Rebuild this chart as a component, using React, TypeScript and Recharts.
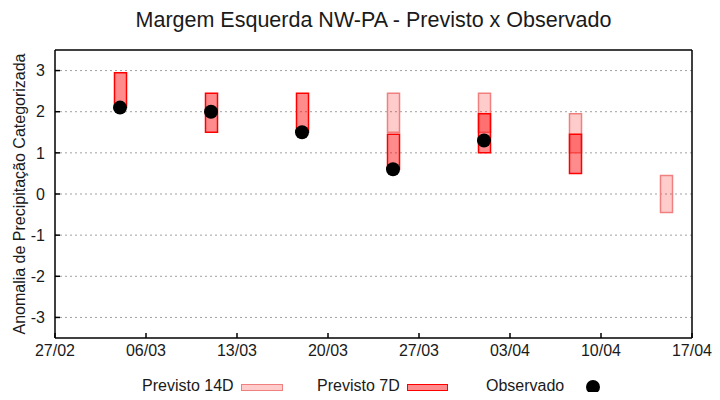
import React from 'react';
import {
  ComposedChart, Bar, Scatter, XAxis, YAxis, CartesianGrid,
} from 'recharts';

// day offsets from 27/02
const days = [5, 12, 19, 26, 33, 40, 47];
const p14Low: (number | null)[] = [null, null, null, 1.5, 1.5, 1.0, -0.45];
const p14High: (number | null)[] = [null, null, null, 2.45, 2.45, 1.95, 0.45];
const p7Low: (number | null)[] = [2.1, 1.5, 1.5, 0.6, 1.0, 0.5, null];
const p7High: (number | null)[] = [2.95, 2.45, 2.45, 1.45, 1.95, 1.45, null];
const observed: (number | null)[] = [2.1, 2.0, 1.5, 0.6, 1.3, null, null];

const xDomain = [0, 49];
const yDomain = [-3.5, 3.5];
const xTicks = [0, 7, 14, 21, 28, 35, 42, 49];
const xTickLabels = ['27/02', '06/03', '13/03', '20/03', '27/03', '03/04', '10/04', '17/04'];
const yTicks = [-3, -2, -1, 0, 1, 2, 3];

const title = 'Margem Esquerda NW-PA - Previsto x Observado';
const yLabel = 'Anomalia de Precipitação Categorizada';
const legendNames = ['Previsto 14D', 'Previsto 7D', 'Observado'];

const data = days.map((d, i) => ({
  day: d,
  p14: p14Low[i] === null ? null : [p14Low[i], p14High[i]],
  p7: p7Low[i] === null ? null : [p7Low[i], p7High[i]],
  obs: observed[i],
}));
const obsData = data.filter((r) => r.obs !== null);

const FONT = '"Liberation Sans", Arial, sans-serif';
const tickStyle = { fontSize: 16, fill: '#1a1a1a', fontFamily: FONT };
const axisLineStyle = { stroke: '#000', strokeWidth: 1.5 };
const tickLineStyle = { stroke: '#000', strokeWidth: 1.5 };

const PLOT = { left: 55, top: 50, right: 28, bottom: 62 };

const Dot = (props: any) => {
  const { cx, cy } = props;
  if (cx == null || cy == null) return null;
  return <circle cx={cx} cy={cy} r={7} fill="#000" />;
};

export default function App() {
  return (
    <div style={{ position: 'relative', width: 720, height: 400, margin: -8, fontFamily: FONT, background: '#fff' }}>
      <div style={{ position: 'absolute', left: PLOT.left, width: 720 - PLOT.left - PLOT.right, top: 7, lineHeight: '26px', fontSize: 21.5, textAlign: 'center', color: '#1a1a1a' }}>
        {title}
      </div>
      <div style={{ position: 'absolute', left: 20, top: 194, width: 0, height: 0 }}>
        <div style={{ position: 'absolute', transform: 'translate(-50%, -50%) rotate(-90deg)', whiteSpace: 'nowrap', fontSize: 16, color: '#1a1a1a' }}>
          {yLabel}
        </div>
      </div>
      <div style={{ position: 'absolute', left: 0, top: 0 }}>
        <ComposedChart width={720} height={400} data={data} margin={{ top: PLOT.top, right: PLOT.right, bottom: 0, left: 0 }}>
          <CartesianGrid xAxisId="bottom" yAxisId="left" vertical={false} stroke="#a0a0a0" strokeDasharray="2 3" horizontalValues={yTicks} />
          {/* plot frame: solid top and right borders at the domain edges */}
          <CartesianGrid xAxisId="bottom" yAxisId="left" stroke="#000" strokeWidth={1.5}
            horizontalValues={[yDomain[1]]} verticalValues={[xDomain[1]]} />
          <XAxis xAxisId="bottom" dataKey="day" type="number" domain={xDomain} ticks={xTicks}
            tickFormatter={(v: number) => xTickLabels[xTicks.indexOf(v)] ?? ''}
            tickSize={-5} tickMargin={12} axisLine={axisLineStyle} tickLine={tickLineStyle} tick={tickStyle} height={PLOT.bottom} interval={0} allowDataOverflow />
          <XAxis xAxisId="top" orientation="top" dataKey="day" type="number" domain={xDomain} hide allowDataOverflow />
          <YAxis yAxisId="left" type="number" domain={yDomain} ticks={yTicks} width={PLOT.left}
            tickSize={-5} tickMargin={15} axisLine={axisLineStyle} tickLine={tickLineStyle} tick={tickStyle} interval={0} allowDataOverflow />
          <Bar xAxisId="top" yAxisId="left" dataKey="p14" barSize={12} fill="#ff0000" fillOpacity={0.2}
            stroke="#f08080" strokeWidth={1.5} isAnimationActive={false} />
          <Bar xAxisId="bottom" yAxisId="left" dataKey="p7" barSize={12} fill="#ff0000" fillOpacity={0.45}
            stroke="#ff0000" strokeWidth={1.5} isAnimationActive={false} />
          <Scatter xAxisId="bottom" yAxisId="left" data={obsData} dataKey="obs" shape={<Dot />} isAnimationActive={false} />
        </ComposedChart>
      </div>
      <div style={{ position: 'absolute', top: 376, left: 0, width: 720, height: 20, fontSize: 16, color: '#1a1a1a' }}>
        <span style={{ position: 'absolute', left: 142, lineHeight: '20px' }}>{legendNames[0]}</span>
        <span style={{ position: 'absolute', left: 241, top: 8, width: 40, height: 5, background: '#ffcccc', border: '1px solid #f08080' }} />
        <span style={{ position: 'absolute', left: 317, lineHeight: '20px' }}>{legendNames[1]}</span>
        <span style={{ position: 'absolute', left: 407, top: 8, width: 39, height: 5, background: '#ff8c8c', border: '1px solid #ff0000' }} />
        <span style={{ position: 'absolute', left: 486, lineHeight: '20px' }}>{legendNames[2]}</span>
        <span style={{ position: 'absolute', left: 586, top: 4, width: 14, height: 14, borderRadius: 7, background: '#000' }} />
      </div>
    </div>
  );
}
